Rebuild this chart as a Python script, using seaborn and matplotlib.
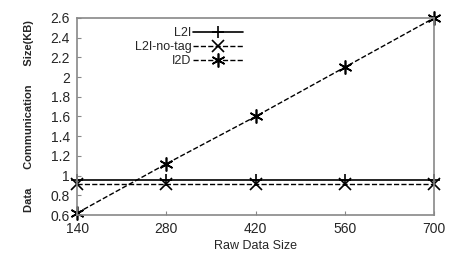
import matplotlib
matplotlib.use("Agg")
import matplotlib.pyplot as plt
import seaborn as sns
import pandas as pd

raw_size = [140, 280, 420, 560, 700]
l2i = [0.96, 0.96, 0.96, 0.96, 0.96]
l2i_no_tag = [0.91, 0.91, 0.91, 0.91, 0.91]
i2d = [0.62, 1.12, 1.60, 2.10, 2.60]

sns.set_style("ticks")
plt.rcParams['font.family'] = ['Liberation Sans', 'DejaVu Sans']

fig = plt.figure(figsize=(4.56, 2.6), dpi=100)
ax = fig.add_axes([0.169, 0.173, 0.783, 0.758])

df = pd.DataFrame({'x': raw_size, 'L2I': l2i, 'L2I-no-tag': l2i_no_tag, 'I2D': i2d})

common = dict(ax=ax, color='black', markeredgecolor='black', markeredgewidth=1.2,
              clip_on=False)
sns.lineplot(data=df, x='x', y='L2I', lw=1.2, marker='+', markersize=9,
             label='L2I', **common)
sns.lineplot(data=df, x='x', y='L2I-no-tag', lw=1.0, linestyle='--', marker='x',
             markersize=8, label='L2I-no-tag', **common)
sns.lineplot(data=df, x='x', y='I2D', lw=1.0, linestyle='--', marker=(6, 2, 0),
             markersize=10, label='I2D', **common)

ax.set_xlim(140, 700)
ax.set_ylim(0.6, 2.6)
ax.set_xticks(raw_size)
ax.set_yticks([0.6, 0.8, 1.0, 1.2, 1.4, 1.6, 1.8, 2.0, 2.2, 2.4, 2.6])
ax.set_yticklabels(['0.6', '0.8', '1', '1.2', '1.4', '1.6', '1.8', '2', '2.2', '2.4', '2.6'])
ax.tick_params(direction='in', length=3, labelsize=10, color='#888888', pad=5)
for s in ax.spines.values():
    s.set_color('#888888')
    s.set_linewidth(1.2)

ax.set_xlabel('Raw Data Size', fontsize=9, labelpad=3)
ax.set_ylabel('Data      Communication      Size(KB)', fontsize=8,
              fontweight='bold', labelpad=12)

leg = ax.legend(loc='upper left', bbox_to_anchor=(0.13, 1.01), frameon=False,
                markerfirst=False, fontsize=9, handlelength=4.0, handletextpad=0.1,
                labelspacing=0.15)

fig.savefig('out.png', dpi=100)
